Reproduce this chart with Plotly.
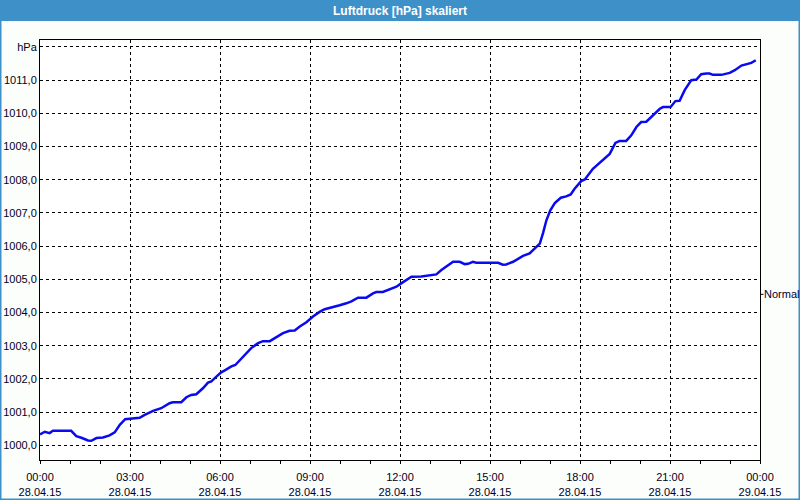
import pandas as pd
import plotly.graph_objects as go

# ---- data (hours after 28.04.15 00:00, pressure in hPa) ----
hours = [0.0, 0.16, 0.32, 0.43, 1.04, 1.21, 1.38, 1.6, 1.71, 1.88, 2.1, 2.32, 2.49, 2.66, 2.84,
         3.1, 3.32, 3.49, 3.77, 4.04, 4.32, 4.43, 4.71, 4.88, 5.04, 5.21, 5.43, 5.6, 5.71, 5.88, 6.04,
         6.16, 6.38, 6.51, 6.77, 7.04, 7.27, 7.43, 7.66, 7.88, 8.1, 8.32, 8.49, 8.66, 8.88,
         9.1, 9.32, 9.49, 9.66, 9.82, 9.99, 10.21, 10.38, 10.6, 10.88, 11.1, 11.21, 11.43, 11.66, 11.88, 12.04,
         12.27, 12.38, 12.71, 13.04, 13.21, 13.38, 13.6, 13.77, 13.99, 14.16, 14.27, 14.43, 14.54,
         15.27, 15.43, 15.54, 15.77, 15.93, 16.1, 16.32, 16.49, 16.66, 16.77, 16.88, 17.01, 17.16, 17.36,
         17.54, 17.69, 17.82, 18.04,
         18.16, 18.43, 18.71, 18.99, 19.18, 19.32, 19.54, 19.71, 19.88, 20.04, 20.21, 20.43, 20.66, 20.77,
         21.02, 21.18, 21.32, 21.49, 21.71, 21.88, 22.04, 22.21, 22.32, 22.43, 22.71, 22.99, 23.16, 23.38,
         23.6, 23.71, 23.86]
pressure = [1000.33, 1000.41, 1000.37, 1000.44, 1000.44, 1000.28, 1000.23, 1000.15, 1000.14, 1000.22,
            1000.24, 1000.30, 1000.39, 1000.62, 1000.79,
            1000.81, 1000.83, 1000.92, 1001.04, 1001.12, 1001.27, 1001.30, 1001.30, 1001.45, 1001.52,
            1001.54, 1001.72, 1001.89, 1001.93, 1002.07, 1002.20,
            1002.26, 1002.38, 1002.42, 1002.68, 1002.93, 1003.08, 1003.14, 1003.14, 1003.26, 1003.38,
            1003.45, 1003.46, 1003.58, 1003.71,
            1003.88, 1004.02, 1004.10, 1004.14, 1004.16, 1004.22, 1004.28, 1004.34, 1004.45, 1004.45,
            1004.58, 1004.62, 1004.62, 1004.70, 1004.78, 1004.88,
            1005.02, 1005.08, 1005.09, 1005.13, 1005.15, 1005.28, 1005.42, 1005.53, 1005.53, 1005.46,
            1005.47, 1005.53, 1005.50,
            1005.50, 1005.44, 1005.45, 1005.53, 1005.63, 1005.71, 1005.78, 1005.93, 1006.08, 1006.40,
            1006.78, 1007.08, 1007.30, 1007.46,
            1007.50, 1007.56, 1007.73, 1007.96,
            1008.01, 1008.33, 1008.55, 1008.78, 1009.11, 1009.17, 1009.17, 1009.34, 1009.59, 1009.74,
            1009.75, 1009.94, 1010.14, 1010.19,
            1010.19, 1010.37, 1010.38, 1010.70, 1011.00, 1011.02, 1011.18, 1011.20, 1011.20, 1011.16,
            1011.16, 1011.22, 1011.30, 1011.44,
            1011.50, 1011.52, 1011.60]

y_tickvals = [1000, 1001, 1002, 1003, 1004, 1005, 1006, 1007, 1008, 1009, 1010, 1011, 1012]
y_ticktext = ["1000,0", "1001,0", "1002,0", "1003,0", "1004,0", "1005,0", "1006,0",
              "1007,0", "1008,0", "1009,0", "1010,0", "1011,0", "hPa"]
title_text = "Luftdruck [hPa] skaliert"
legend_text = "Normal"
legend_level = 1004.55
start = "2015-04-28 00:00"
end = "2015-04-29 00:00"

times = pd.Timestamp(start) + pd.to_timedelta(hours, unit="h")

W, H = 800, 500
ML, MR, MT, MB = 40, 40, 40, 40
PW, PH = W - ML - MR, H - MT - MB


def px(x):
    return (x - ML) / PW


def py(y):
    return (H - MB - y) / PH


FONT = "Liberation Sans"
BLUE_BAR = "#3d91c8"

fig = go.Figure()
fig.add_trace(go.Scatter(x=times, y=pressure, mode="lines",
                         line=dict(color="#0a0af0", width=2.5), showlegend=False,
                         hoverinfo="skip"))

shapes = [
    dict(type="rect", xref="paper", yref="paper", x0=px(0), x1=px(800), y0=py(21), y1=py(0),
         fillcolor=BLUE_BAR, line=dict(width=0)),
    dict(type="rect", xref="paper", yref="paper", x0=px(0), x1=px(1.5), y0=py(500), y1=py(0),
         fillcolor=BLUE_BAR, line=dict(width=0)),
    dict(type="rect", xref="paper", yref="paper", x0=px(798.5), x1=px(800), y0=py(500), y1=py(0),
         fillcolor=BLUE_BAR, line=dict(width=0)),
    dict(type="rect", xref="paper", yref="paper", x0=px(0), x1=px(800), y0=py(500), y1=py(498.5),
         fillcolor=BLUE_BAR, line=dict(width=0)),
    dict(type="line", xref="paper", yref="y", x0=px(761), x1=px(763.5), y0=legend_level, y1=legend_level,
         line=dict(color="#000000", width=1, dash="dot")),
]

annotations = [
    dict(text="<b>" + title_text + "</b>", xref="paper", yref="paper", x=0.5, y=py(10.5),
         xanchor="center", yanchor="middle", showarrow=False,
         font=dict(family=FONT, size=12, color="#ffffff")),
    dict(text=legend_text, xref="paper", yref="y", x=px(762), y=legend_level,
         xanchor="left", yanchor="middle", showarrow=False,
         font=dict(family=FONT, size=11, color="#000030")),
]

fig.update_layout(
    width=W, height=H,
    margin=dict(l=ML, r=MR, t=MT, b=MB, pad=0, autoexpand=False),
    paper_bgcolor="#fcfefc",
    plot_bgcolor="#fefffe",
    font=dict(family=FONT, size=11, color="#000020"),
    shapes=shapes,
    annotations=annotations,
    showlegend=False,
    xaxis=dict(
        type="date", range=[start, end],
        tick0=start, dtick=3 * 3600 * 1000,
        tickformat="%H:%M<br>%d.%m.%y",
        showgrid=True, gridcolor="#000000", gridwidth=1, griddash="3px,3px",
        showline=True, mirror=True, linecolor="#000000", linewidth=1,
        ticks="outside", ticklen=3, tickcolor="#000000", tickwidth=1,
        minor=dict(dtick=3600 * 1000, ticks="outside", ticklen=3, tickcolor="#000000",
                   showgrid=False),
        ticklabelstandoff=4,
        zeroline=False, fixedrange=True, automargin=False,
        tickfont=dict(family=FONT, size=11, color="#000020"),
    ),
    yaxis=dict(
        range=[999.56, 1012.21],
        tickvals=y_tickvals, ticktext=y_ticktext,
        showgrid=True, gridcolor="#000000", gridwidth=1, griddash="3px,3px",
        showline=True, mirror=True, linecolor="#000000", linewidth=1,
        ticks="", zeroline=False, fixedrange=True, automargin=False,
        tickfont=dict(family=FONT, size=11, color="#000020"),
    ),
)

fig.write_html("out.html")
